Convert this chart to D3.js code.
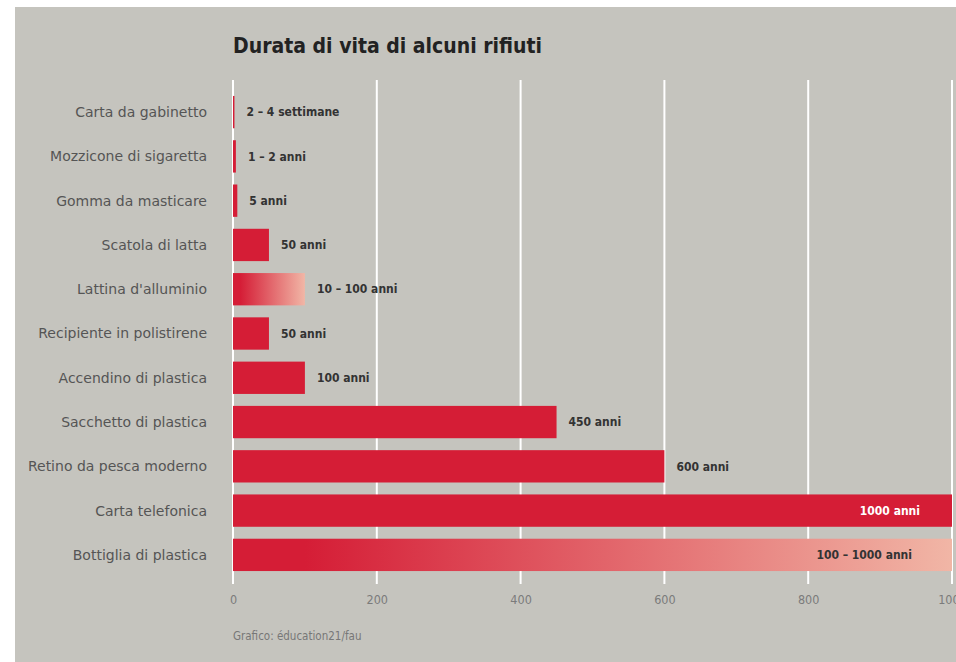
<!DOCTYPE html>
<html>
<head>
<meta charset="utf-8">
<script src="https://cdn.jsdelivr.net/npm/d3@7"></script>
<style>
  body { margin: 0; background: #fff; }
  svg { display: block; }
  .cat { font-family: "DejaVu Sans", sans-serif; font-size: 14px; fill: #555; }
  .val { font-family: "DejaVu Sans Condensed", sans-serif; font-size: 12px; font-weight: bold; fill: #333; }
  .tick text { font-family: "DejaVu Sans Condensed", sans-serif; font-size: 12.5px; fill: #7b7b7b; }
</style>
</head>
<body>
<div id="chart"></div>
<script>
// categories and ranges (years)
const categories = ["Carta da gabinetto", "Mozzicone di sigaretta", "Gomma da masticare",
  "Scatola di latta", "Lattina d'alluminio", "Recipiente in polistirene",
  "Accendino di plastica", "Sacchetto di plastica", "Retino da pesca moderno",
  "Carta telefonica", "Bottiglia di plastica"];
const lowValues  = [2, 4, 6, 50, 10, 50, 100, 450, 600, 1000, 100];
const highValues = [2, 4, 6, 50, 100, 50, 100, 450, 600, 1000, 1000];
const valueLabels = ["2 – 4 settimane", "1 – 2 anni", "5 anni", "50 anni", "10 – 100 anni",
  "50 anni", "100 anni", "450 anni", "600 anni", "1000 anni", "100 – 1000 anni"];
const tickValues = [0, 200, 400, 600, 800, 1000];

const width = 956, height = 662;
const red = "#d51d36", pink = "#f1b6a6";

const svg = d3.select("#chart").append("svg").attr("width", width).attr("height", height);

svg.append("rect").attr("x", 15).attr("y", 7).attr("width", width - 15).attr("height", height - 7)
  .attr("fill", "#c5c4be");

const x = d3.scaleLinear().domain([0, 1000]).range([233, 952]);
const y = d3.scaleBand().domain(categories).range([84, 583]).padding(0.27);

const data = categories.map((c, i) => ({ name: c, lo: lowValues[i], hi: highValues[i], label: valueLabels[i], i }));

// title
svg.append("text").attr("x", 233).attr("y", 53)
  .style("font-family", "'DejaVu Sans Condensed', sans-serif")
  .style("font-size", "21px").style("font-weight", "bold").style("fill", "#222")
  .text("Durata di vita di alcuni rifiuti");

// grid
svg.append("g").selectAll("line").data(tickValues).join("line")
  .attr("x1", d => x(d)).attr("x2", d => x(d))
  .attr("y1", 80).attr("y2", 584)
  .attr("stroke", "#fff").attr("stroke-width", 2);

// axis labels
const axis = svg.append("g").attr("transform", "translate(0,584)")
  .call(d3.axisBottom(x).tickValues(tickValues).tickFormat(d3.format("d")).tickSize(0).tickPadding(11));
axis.select(".domain").remove();

// gradients for ranged bars
const defs = svg.append("defs");
data.filter(d => d.lo !== d.hi).forEach(d => {
  const g = defs.append("linearGradient").attr("id", "grad" + d.i)
    .attr("x1", "0%").attr("x2", "100%");
  g.append("stop").attr("offset", (d.lo / d.hi * 100) + "%").attr("stop-color", red);
  g.append("stop").attr("offset", "100%").attr("stop-color", pink);
});

// bars
svg.append("g").selectAll("rect").data(data).join("rect")
  .attr("x", x(0))
  .attr("y", d => y(d.name))
  .attr("width", d => x(d.hi) - x(0))
  .attr("height", y.bandwidth())
  .attr("fill", d => d.lo !== d.hi ? `url(#grad${d.i})` : red);

// category labels
svg.append("g").selectAll("text").data(data).join("text")
  .attr("class", "cat")
  .attr("x", 207)
  .attr("y", d => y(d.name) + y.bandwidth() / 2)
  .attr("dy", "0.35em")
  .attr("text-anchor", "end")
  .text(d => d.name);

// value labels
svg.append("g").selectAll("text").data(data).join("text")
  .attr("class", "val")
  .attr("x", d => d.hi >= 1000 ? x(d.hi) - 32 - (d.lo !== d.hi ? 8 : 0) : x(d.hi) + 12)
  .attr("y", d => y(d.name) + y.bandwidth() / 2)
  .attr("dy", "0.35em")
  .attr("text-anchor", d => d.hi >= 1000 ? "end" : "start")
  .style("fill", d => d.hi >= 1000 && d.lo === d.hi ? "#fff" : "#333")
  .text(d => d.label);

// source
svg.append("text").attr("x", 233).attr("y", 640)
  .style("font-family", "'DejaVu Sans Condensed', sans-serif")
  .style("font-size", "11.5px").style("fill", "#777")
  .text("Grafico: éducation21/fau");
</script>
</body>
</html>
